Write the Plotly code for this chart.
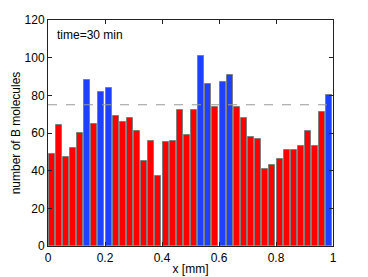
import plotly.graph_objects as go

values = [49, 64, 47, 52, 60, 88, 65, 82, 84, 69,
          66, 68, 61, 45, 56, 37, 55, 56, 72, 59,
          72, 101, 86, 74, 87, 91, 74, 68, 58, 57,
          41, 43, 46, 51, 51, 53, 61, 53, 71, 80]
threshold = 75
n = len(values)
x_centers = [(i + 0.5) / n for i in range(n)]
colors = ["#2040ff" if v > threshold else "#ff0000" for v in values]

fig = go.Figure()
fig.add_trace(go.Bar(x=x_centers, y=values, width=0.85 / n, hoverinfo="skip",
                     marker=dict(color=colors, line=dict(color="#808080", width=1))))
fig.add_shape(type="line", xref="x", yref="y", x0=0, x1=1, y0=threshold, y1=threshold,
              line=dict(color="#999999", width=1, dash="dash"))
fig.add_annotation(x=0.025, y=112, xref="x", yref="y", text="time=30 min", showarrow=False,
                   xanchor="left", yanchor="middle", font=dict(size=12, color="black"))

axis_common = dict(showline=True, linecolor="#222222", linewidth=1, mirror="ticks",
                   ticks="inside", ticklen=4, tickcolor="#222222", showgrid=False,
                   zeroline=False, automargin=False, tickfont=dict(size=12, color="black"))
fig.update_xaxes(range=[0, 1], tickvals=[0, 0.2, 0.4, 0.6, 0.8, 1],
                 ticktext=["0", "0.2", "0.4", "0.6", "0.8", "1"], ticklabelstandoff=1,
                 title=dict(text="x [mm]", font=dict(size=12, color="black"), standoff=0),
                 **axis_common)
fig.update_yaxes(range=[0, 120], tickvals=[0, 20, 40, 60, 80, 100, 120],
                 title=dict(text="number of B molecules", font=dict(size=12, color="black"), standoff=1),
                 **axis_common)
fig.update_layout(width=368, height=277, margin=dict(l=48, r=35, t=20, b=31),
                  paper_bgcolor="white", plot_bgcolor="white", showlegend=False,
                  bargap=0, font=dict(family="Liberation Sans, Arial, sans-serif"))
fig.write_html("out.html", config={"displayModeBar": False},
               post_script="document.body.style.margin='0';")
